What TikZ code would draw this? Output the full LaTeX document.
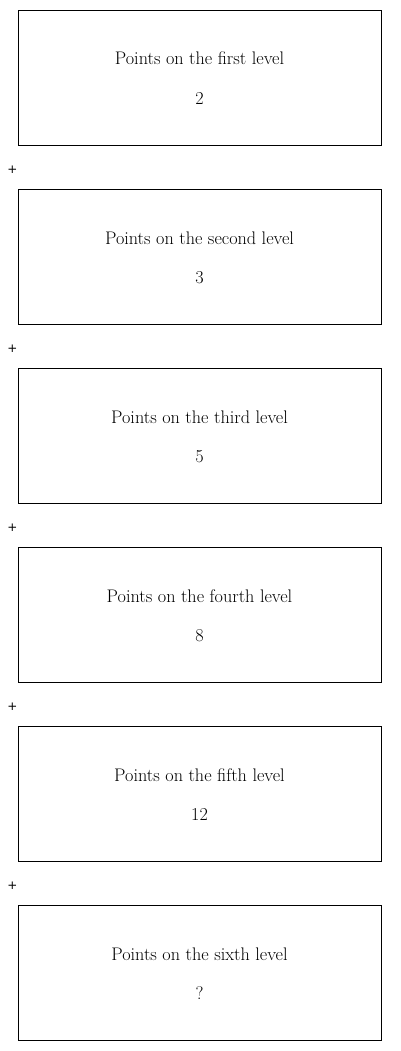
\documentclass[tikz,border=0pt]{standalone}
\usepackage{fontspec}
\newfontfamily\plusfont{DejaVu Sans}
\tikzset{
  levelbox/.style={draw=black, line width=0.9pt, minimum width=363pt, minimum height=135pt, inner sep=0pt},
  leveltext/.style={anchor=base, inner sep=0pt, font=\fontsize{18.2}{22}\selectfont},
  plussign/.style={inner sep=0pt, font=\plusfont\fontsize{12}{14}\selectfont}
}
\begin{document}
\begin{tikzpicture}[x=1pt,y=-1pt]
\useasboundingbox (0,0) rectangle (400,1051);
\foreach \i/\ord/\val in {0/first/2,1/second/3,2/third/5,3/fourth/8,4/fifth/12,5/sixth/?}{
  \node[levelbox] (box\i) at (199.5,{77.5+179*\i}) {};
  \node[leveltext] (title\i) at ([yshift=12.5pt]box\i.center) {Points on the \ord{} level};
  \node[leveltext] (value\i) at ([yshift=-26.8pt]box\i.center) {\val};
}
\foreach \i in {0,...,4}{
  \node[plussign] (plus\i) at (12.5,{169.5+179*\i}) {+};
}
\end{tikzpicture}
\end{document}
